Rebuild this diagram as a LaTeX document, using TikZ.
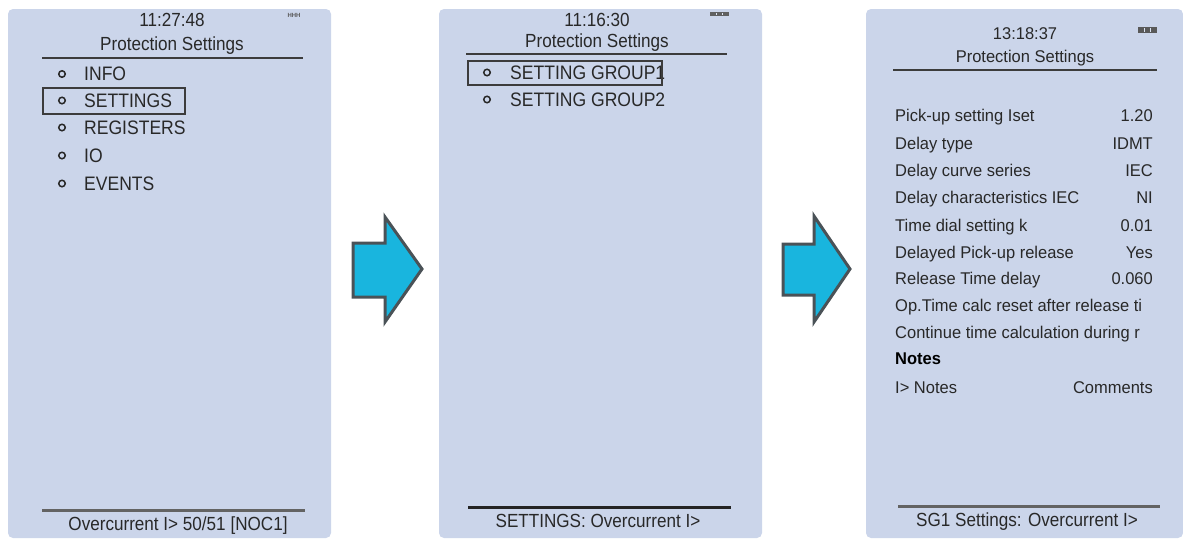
\documentclass[tikz,border=0pt]{standalone}
\usepackage{fontspec}
\setmainfont{Liberation Sans}
\newfontfamily\lcdfont[FakeStretch=0.9]{Liberation Sans}
\newfontfamily\winfont[FakeStretch=0.97]{Liberation Sans}
\definecolor{panelbg}{RGB}{203,213,234}
\definecolor{inkc}{RGB}{40,40,40}
\definecolor{rulec}{RGB}{60,60,60}
\definecolor{arrowfill}{RGB}{25,181,222}
\definecolor{arrowline}{RGB}{74,82,87}
\tikzset{
  panel/.style={fill=panelbg, draw=none, rounded corners=5pt},
  lcdtitle/.style={font=\lcdfont\fontsize{19}{19}\selectfont, text=inkc, anchor=base, inner sep=0pt},
  lcditem/.style={font=\lcdfont\fontsize{19.5}{19.5}\selectfont, text=inkc, anchor=base west, inner sep=0pt},
  bulletdot/.style={circle, draw=inkc, line width=1.5pt, minimum size=6.5pt, inner sep=0pt},
  selbox/.style={draw=rulec, line width=1.8pt, fill=none},
  toprule/.style={draw=rulec, line width=2.2pt},
  botrule/.style={draw=rulec!80, line width=3pt},
  wintext/.style={font=\winfont\fontsize{17}{17}\selectfont, text=inkc, inner sep=0pt},
  winleft/.style={wintext, anchor=base west},
  winright/.style={wintext, anchor=base east},
  wintitle/.style={wintext, anchor=base},
  statusmark/.style={font=\fontsize{6}{6}\selectfont\bfseries, text=gray!70!black, inner sep=0pt},
  blockarrow/.style={fill=arrowfill, draw=arrowline, line width=3pt, line join=miter},
}
\begin{document}
\begin{tikzpicture}[x=1pt,y=-1pt]
\useasboundingbox (0,0) rectangle (1183,538);

% ---------- Panel 1 ----------
\path[panel] (8,538) -- (8,9) -- (331,9) -- (331,538) -- cycle;
\node[lcdtitle] (t1) at (172,27) {11:27:48};
\node[statusmark] (s1) at (294,15) {HHH};
\node[lcdtitle] (h1) at (172,50) {Protection Settings};
\coordinate (r1a) at (42,58); \coordinate (r1b) at (303,58);
\draw[toprule] (r1a) -- (r1b);
\node[lcditem] (i1) at (84,80.5) {INFO};
\node[lcditem] (i2) at (84,107) {SETTINGS};
\node[lcditem] (i3) at (84,134) {REGISTERS};
\node[lcditem] (i4) at (84,162) {IO};
\node[lcditem] (i5) at (84,190) {EVENTS};
\node[bulletdot] (b1) at (62,74) {};
\node[bulletdot] (b2) at (62,100.5) {};
\node[bulletdot] (b3) at (62,127.5) {};
\node[bulletdot] (b4) at (62,155.5) {};
\node[bulletdot] (b5) at (62,183.5) {};
\draw[selbox] (43,88) rectangle (185,114);
\coordinate (q1a) at (42,510); \coordinate (q1b) at (305,510);
\draw[botrule] (q1a) -- (q1b);
\node[lcdtitle] (f1) at (178,530) {Overcurrent I> 50/51 [NOC1]};

% ---------- Arrow 1 ----------
\draw[blockarrow] (353,243) -- (385,243) -- (385,217) -- (422,269) -- (385,322) -- (385,297) -- (353,297) -- cycle;

% ---------- Panel 2 ----------
\path[panel] (439,538) -- (439,9) -- (762,9) -- (762,538) -- cycle;
\node[lcdtitle] (t2) at (597,26) {11:16:30};
\fill[gray!75!black] (710,12) rectangle (729,16);
\fill[panelbg!60!white] (716,13) rectangle (717,15);
\fill[panelbg!60!white] (722,13) rectangle (723,15);
\node[lcdtitle] (h2) at (597,47) {Protection Settings};
\coordinate (r2a) at (466,54); \coordinate (r2b) at (727,54);
\draw[toprule] (r2a) -- (r2b);
\node[lcditem] (g1) at (510,79) {SETTING GROUP1};
\node[lcditem] (g2) at (510,106) {SETTING GROUP2};
\node[bulletdot] (c1) at (487,72.5) {};
\node[bulletdot] (c2) at (487,99.5) {};
\draw[selbox] (468,61) rectangle (662,85);
\coordinate (q2a) at (468,507); \coordinate (q2b) at (731,507);
\draw[botrule, draw=rulec!60!black] (q2a) -- (q2b);
\node[lcdtitle] (f2) at (598,527) {SETTINGS: Overcurrent I>};

% ---------- Arrow 2 ----------
\draw[blockarrow] (783,244) -- (814,244) -- (814,216) -- (850,269) -- (814,322) -- (814,295) -- (783,295) -- cycle;

% ---------- Panel 3 ----------
\path[panel] (866,538) -- (866,9) -- (1183,9) -- (1183,538) -- cycle;
\node[wintitle] (t3) at (1025,39) {13:18:37};
\fill[gray!70!black] (1138,27) rectangle (1157,33);
\fill[panelbg!70!white] (1144,28) rectangle (1145,32);
\fill[panelbg!70!white] (1150,28) rectangle (1151,32);
\node[wintitle] (h3) at (1025,62) {Protection Settings};
\coordinate (r3a) at (893,70); \coordinate (r3b) at (1157,70);
\draw[toprule] (r3a) -- (r3b);
\node[winleft] (p1) at (895,121) {Pick-up setting Iset};
\node[winright] (v1) at (1153,121) {1.20};
\node[winleft] (p2) at (895,149) {Delay type};
\node[winright] (v2) at (1153,149) {IDMT};
\node[winleft] (p3) at (895,176) {Delay curve series};
\node[winright] (v3) at (1153,176) {IEC};
\node[winleft] (p4) at (895,203) {Delay characteristics IEC};
\node[winright] (v4) at (1153,203) {NI};
\node[winleft] (p5) at (895,231) {Time dial setting k};
\node[winright] (v5) at (1153,231) {0.01};
\node[winleft] (p6) at (895,258) {Delayed Pick-up release};
\node[winright] (v6) at (1153,258) {Yes};
\node[winleft] (p7) at (895,284) {Release Time delay};
\node[winright] (v7) at (1153,284) {0.060};
\node[winleft] (p8) at (895,311) {Op.Time calc reset after release ti};
\node[winleft] (p9) at (895,338) {Continue time calculation during r};
\node[winleft, font=\winfont\fontsize{17}{17}\selectfont\bfseries, text=black] (p10) at (895,364) {Notes};
\node[winleft] (p11) at (895,393) {I> Notes};
\node[winright] (v11) at (1153,393) {Comments};
\coordinate (q3a) at (898,506); \coordinate (q3b) at (1160,506);
\draw[botrule] (q3a) -- (q3b);
\node[lcdtitle] (f3) at (1027,526) {SG1 Settings: Overcurrent I>};
\end{tikzpicture}
\end{document}
